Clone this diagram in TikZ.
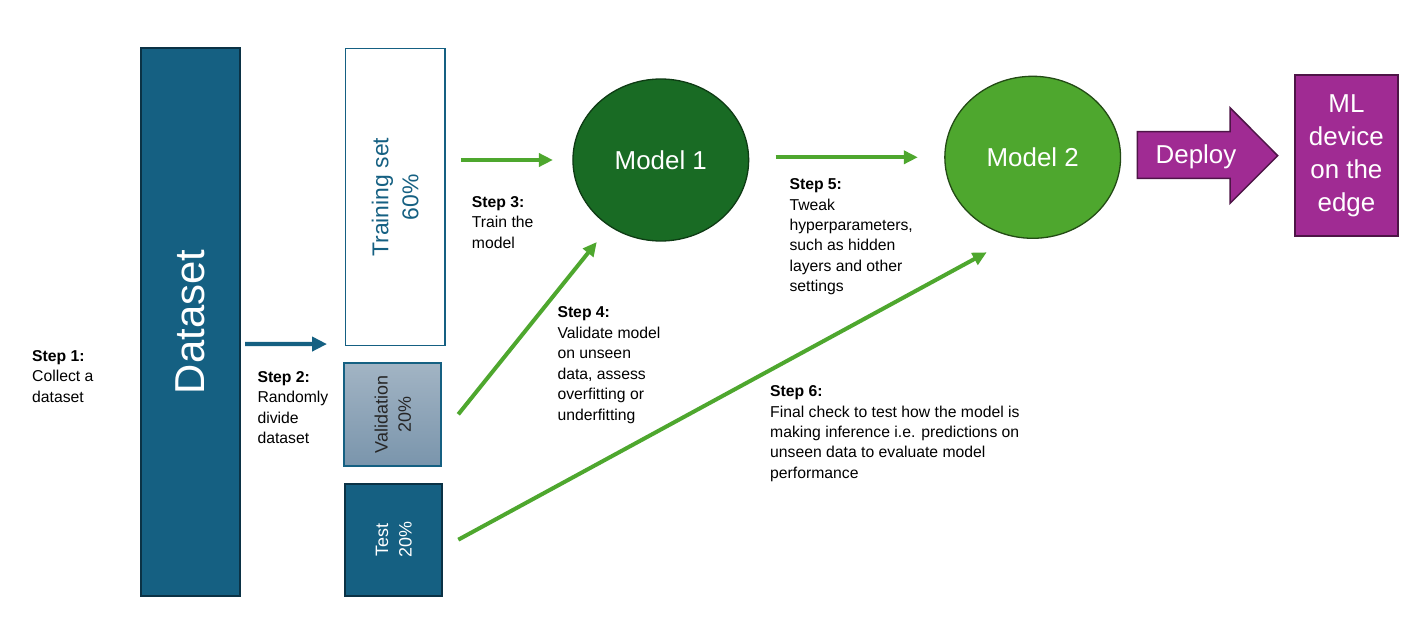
\documentclass[tikz,border=0pt]{standalone}
\usepackage{fontspec}
\setmainfont{Liberation Sans}
\usepackage{tikz}
\usetikzlibrary{arrows.meta,shapes.geometric}

\definecolor{dteal}{HTML}{156082}
\definecolor{dtealdark}{HTML}{0B3245}
\definecolor{mgreen}{HTML}{196B24}
\definecolor{lgreen}{HTML}{4EA72E}
\definecolor{purp}{HTML}{A02B93}
\definecolor{purpdark}{HTML}{4E1547}
\definecolor{valtop}{HTML}{A2B4C4}
\definecolor{valbot}{HTML}{7A95AC}

\tikzset{
  box/.style={rectangle, inner sep=0pt, outer sep=0pt},
  model/.style={ellipse, inner sep=0pt, outer sep=0pt, minimum width=175.7bp, minimum height=162bp,
    line width=1.3bp, text=white, font=\fontsize{26}{31}\selectfont},
  steptext/.style={anchor=base west, align=left, inner sep=0pt, font=\fontsize{15.8}{20.5}\selectfont},
  splitlabel/.style={rotate=90, align=center, inner sep=0pt},
  garrow/.style={draw=lgreen, line width=4bp, -{Triangle[length=14bp,width=13bp]}},
  barrow/.style={draw=dteal, line width=4.3bp, -{Triangle[length=15bp,width=14bp]}}
}

\begin{document}
\begin{tikzpicture}[x=1bp,y=-1bp]
\useasboundingbox (0,0) rectangle (1414,627);

\node[box, minimum width=99bp, minimum height=548bp, fill=dteal, draw=dtealdark, line width=2bp] (data) at (190.7,322) {};
\node[rotate=90, inner sep=0pt, text=white, font=\fontsize{42}{50}\selectfont] (datalabel) at (data) {Dataset};

\node[box, minimum width=99.3bp, minimum height=296.7bp, fill=white, draw=dteal, line width=1.3bp] (train) at (395.2,197.2) {};
\node[splitlabel, text=dteal, font=\fontsize{23}{30}\selectfont] (trainlabel) at (train) {Training set\\60\%};

\node[box, minimum width=97bp, minimum height=102.7bp, top color=valtop, bottom color=valbot, draw=dteal, line width=2bp] (val) at (392.8,414.3) {};
\node[splitlabel, text=black!85, font=\fontsize{18}{23.4}\selectfont] (vallabel) at (val) {Validation\\20\%};

\node[box, minimum width=97bp, minimum height=112bp, fill=dteal, draw=dtealdark, line width=2bp] (test) at (393.8,539.7) {};
\node[splitlabel, text=white, font=\fontsize{18}{23.4}\selectfont] (testlabel) at (test) {Test\\20\%};

\node[model, fill=mgreen, draw=mgreen!55!black] (model1) at (660.8,160) {Model 1};
\node[model, fill=lgreen, draw=lgreen!45!black] (model2) at (1032.7,157.3) {Model 2};

\draw[purpdark, fill=purp, line width=1.5bp] (1137.3,131.7) -- (1230,131.7) -- (1230,107.7) -- (1277.7,155.7)
  -- (1230,203.3) -- (1230,178.3) -- (1137.3,178.3) -- cycle;
\node[inner sep=0pt, text=white, font=\fontsize{26}{31}\selectfont] (deploy) at (1196,157) {Deploy};

\node[box, minimum width=103.8bp, minimum height=160bp, fill=purp, draw=purpdark, line width=2bp,
  align=center, text=white, font=\fontsize{26}{33}\selectfont] (edge) at (1346.4,155.5) {ML\\device\\on the\\edge};

\draw[barrow] ([shift={(5bp,-22bp)}]data.east) -- ([shift={(-18.5bp,1.5bp)}]train.south west);
\draw[garrow, shorten <=16bp, shorten >=20bp] (train.east |- model1.west) -- (model1.west);
\draw[garrow, shorten <=27bp, shorten >=27bp] (model1.east |- model2.west) -- (model2.west);
\draw[garrow] ([xshift=17bp]val.east) -- ([shift={(-64bp,-82bp)}]model1.center);
\draw[garrow] ([xshift=16bp]test.east) -- ([shift={(-46bp,-95bp)}]model2.center);

\node[steptext] (step1) at (32,402) {\textbf{Step 1:}\\Collect a\\dataset};
\node[steptext] (step2) at (257.3,443.5) {\textbf{Step 2:}\\Randomly\\divide\\dataset};
\node[steptext] (step3) at (471.7,248) {\textbf{Step 3:}\\Train the\\model};
\node[steptext] (step4) at (557.3,420) {\textbf{Step 4:}\\Validate model\\on unseen\\data, assess\\overfitting or\\underfitting};
\node[steptext] (step5) at (789.3,291.7) {\textbf{Step 5:}\\Tweak\\hyperparameters,\\such as hidden\\layers and other\\settings};
\node[steptext] (step6) at (770,478.3) {\textbf{Step 6:}\\Final check to test how the model is\\making inference i.e. predictions on\\unseen data to evaluate model\\performance};
\end{tikzpicture}
\end{document}
